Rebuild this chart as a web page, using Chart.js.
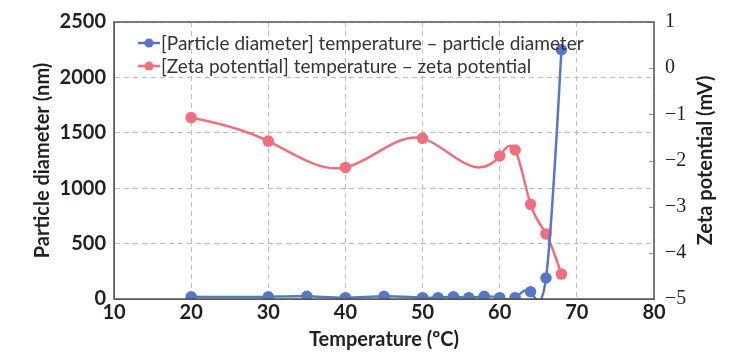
<!DOCTYPE html>
<html>
<head>
<meta charset="utf-8">
<script src="https://cdn.jsdelivr.net/npm/chart.js@4/dist/chart.umd.min.js"></script>
<style>
  html, body { margin: 0; background: #fff; }
</style>
</head>
<body>
<canvas id="chart" width="738" height="353"></canvas>
<script>
// Particle diameter (nm) by temperature
const diamTemps = [20, 30, 35, 40, 45, 50, 52, 54, 56, 58, 60, 62, 64, 66, 68];
const diamValues = [20, 20, 25, 12, 25, 12, 12, 20, 12, 25, 12, 12, 65, 190, 2250];

// Zeta potential (mV) by temperature
const zetaTemps = [20, 30, 40, 50, 60, 62, 64, 66, 68];
const zetaValues = [-1.07, -1.58, -2.15, -1.52, -1.90, -1.77, -2.95, -3.59, -4.46];

const xTicks = [10, 20, 30, 40, 50, 60, 70, 80];

const labels = [
  "[Particle diameter] temperature \u2013 particle diameter",
  "[Zeta potential] temperature \u2013 zeta potential",
];
const zetaTitle = "Zeta potential (mV)";

const BLUE = "#5577c4";
const PINK = "#ef6f7f";
const TEXT = "#231f20";
const GRID = "#bdbdbd";
const FRAME = "#555";
const TITLE_FONT = "bold 20px Lato";

const toPoints = (xs, ys) => xs.map((x, i) => ({ x, y: ys[i] }));
const minus = (v) => String(v).replace("-", "\u2212");

// natural cubic spline through the drawn points, written into the
// bezier control points that Chart.js strokes the line with
function splineControlPoints(pts) {
  const n = pts.length;
  if (n < 3) return;
  const h = [], s = [];
  for (let i = 0; i < n - 1; i++) {
    h[i] = pts[i + 1].x - pts[i].x;
    s[i] = (pts[i + 1].y - pts[i].y) / h[i];
  }
  // second derivatives, M[0] = M[n-1] = 0 (Thomas algorithm)
  const M = new Array(n).fill(0);
  const c = [], d = [];
  for (let i = 1; i < n - 1; i++) {
    const a = i > 1 ? h[i - 1] : 0;
    const den = 2 * (h[i - 1] + h[i]) - (i > 1 ? a * c[i - 1] : 0);
    c[i] = h[i] / den;
    d[i] = (6 * (s[i] - s[i - 1]) - (i > 1 ? a * d[i - 1] : 0)) / den;
  }
  for (let i = n - 2; i >= 1; i--) M[i] = d[i] - c[i] * M[i + 1];

  for (let i = 0; i < n - 1; i++) {
    const p = pts[i], q = pts[i + 1], hh = h[i];
    const m0 = s[i] - hh * (2 * M[i] + M[i + 1]) / 6;
    const m1 = s[i] + hh * (M[i] + 2 * M[i + 1]) / 6;
    p.cp2x = p.x + hh / 3; p.cp2y = p.y + m0 * hh / 3;
    q.cp1x = q.x - hh / 3; q.cp1y = q.y - m1 * hh / 3;
  }
  pts[0].cp1x = pts[0].x; pts[0].cp1y = pts[0].y;
  pts[n - 1].cp2x = pts[n - 1].x; pts[n - 1].cp2y = pts[n - 1].y;
}

const naturalSpline = {
  id: "naturalSpline",
  beforeDatasetDraw(chart, args) {
    const meta = args.meta;
    meta.dataset.updateControlPoints(chart.chartArea, meta.indexAxis);
    splineControlPoints(meta.data);
  },
};

// plot frame, short inward marks on the right axis and its title
const frame = {
  id: "frame",
  afterDatasetsDraw(chart) {
    const { ctx, chartArea: a } = chart;
    const z = chart.scales.yZeta;
    ctx.save();
    ctx.strokeStyle = "#999";
    ctx.lineWidth = 1;
    z.ticks.forEach(t => {
      const y = Math.round(z.getPixelForValue(t.value)) + 0.5;
      ctx.beginPath();
      ctx.moveTo(a.right - 5, y);
      ctx.lineTo(a.right, y);
      ctx.stroke();
    });
    ctx.strokeStyle = FRAME;
    ctx.lineWidth = 1.5;
    ctx.strokeRect(a.left, a.top, a.right - a.left, a.bottom - a.top);

    ctx.translate(706, (a.top + a.bottom) / 2);
    ctx.rotate(-Math.PI / 2);
    ctx.font = TITLE_FONT;
    ctx.fillStyle = TEXT;
    ctx.textAlign = "center";
    ctx.textBaseline = "middle";
    ctx.fillText(zetaTitle, 0, 0);
    ctx.restore();
  },
};

// legend inside the top-left of the plot: line + dot, then label
const insideLegend = {
  id: "insideLegend",
  afterDraw(chart) {
    const { ctx, chartArea: a } = chart;
    ctx.save();
    ctx.font = "19px Lato";
    ctx.textBaseline = "middle";
    chart.data.datasets.forEach((ds, i) => {
      const y = a.top + 21 + i * 23;
      const x0 = a.left + 24;
      ctx.strokeStyle = ds.borderColor;
      ctx.lineWidth = 2.5;
      ctx.beginPath();
      ctx.moveTo(x0, y);
      ctx.lineTo(x0 + 22, y);
      ctx.stroke();
      ctx.fillStyle = ds.borderColor;
      ctx.beginPath();
      ctx.arc(x0 + 11, y, 4.5, 0, Math.PI * 2);
      ctx.fill();
      ctx.fillStyle = "#333";
      ctx.fillText(ds.label, x0 + 23, y + 1);
    });
    ctx.restore();
  },
};

new Chart(document.getElementById("chart"), {
  type: "line",
  data: {
    datasets: [
      {
        label: labels[0],
        data: toPoints(diamTemps, diamValues),
        yAxisID: "yDiam",
        borderColor: BLUE,
        backgroundColor: BLUE,
        borderWidth: 2.5,
        pointRadius: 4.5,
        pointHoverRadius: 4.5,
        tension: 0.4,
        capBezierPoints: false,
      },
      {
        label: labels[1],
        data: toPoints(zetaTemps, zetaValues),
        yAxisID: "yZeta",
        borderColor: PINK,
        backgroundColor: PINK,
        borderWidth: 2.5,
        pointRadius: 4.5,
        pointHoverRadius: 4.5,
        tension: 0.4,
        capBezierPoints: false,
      },
    ],
  },
  options: {
    responsive: false,
    animation: false,
    layout: { padding: { top: 22, left: 0, right: 0, bottom: 0 } },
    plugins: { legend: { display: false }, tooltip: { enabled: false } },
    scales: {
      x: {
        type: "linear",
        min: 10,
        max: 80,
        afterBuildTicks: (s) => { s.ticks = xTicks.map(v => ({ value: v })); },
        afterFit: (s) => { s.height = 54; },
        ticks: { color: TEXT, font: { family: "Lato", size: 20, weight: "bold" }, padding: 2 },
        grid: { color: GRID, lineWidth: 1, drawTicks: false },
        border: { display: true, color: FRAME, dash: [5, 4] },
        title: {
          display: true,
          text: "Temperature (\u00baC)",
          color: TEXT,
          font: { family: "Lato", size: 20, weight: "bold" },
          padding: { top: 0, bottom: 1 },
        },
      },
      yDiam: {
        position: "left",
        min: 0,
        max: 2500,
        afterFit: (s) => { s.width = 114; },
        ticks: {
          stepSize: 500,
          color: TEXT,
          font: { family: "Lato", size: 20, weight: "bold" },
          padding: 8,
          callback: (v) => String(v),
        },
        grid: { color: GRID, lineWidth: 1, drawTicks: false },
        border: { display: true, color: FRAME, dash: [5, 4] },
        title: {
          display: true,
          text: "Particle diameter (nm)",
          color: TEXT,
          font: { family: "Lato", size: 20, weight: "bold" },
          padding: { top: 31, bottom: 0 },
        },
      },
      yZeta: {
        position: "right",
        min: -5,
        max: 1,
        afterFit: (s) => { s.width = 84; },
        ticks: {
          stepSize: 1,
          color: TEXT,
          font: { family: "Liberation Sans Narrow", size: 20 },
          padding: 3,
          callback: (v) => minus(v),
        },
        grid: { display: false, drawOnChartArea: false },
        border: { display: false },
      },
    },
  },
  plugins: [naturalSpline, frame, insideLegend],
});
</script>
</body>
</html>
